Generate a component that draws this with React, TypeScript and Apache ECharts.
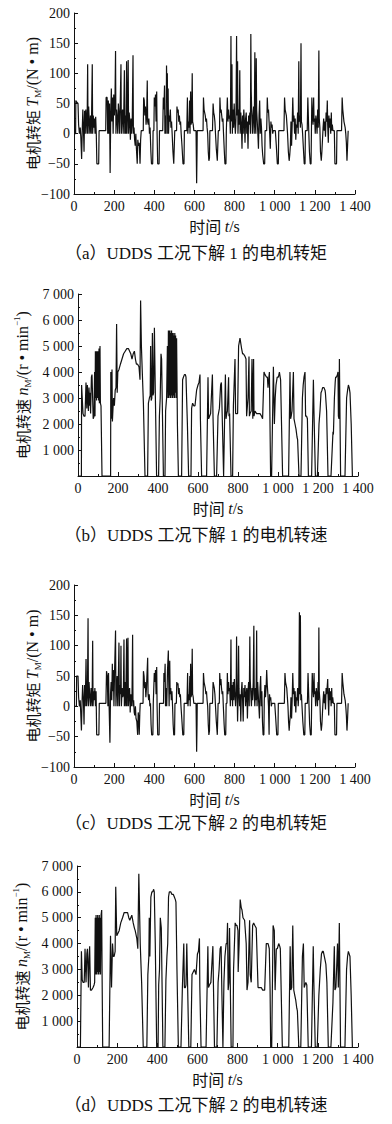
import React, { useEffect, useRef } from 'react';
import * as echarts from 'echarts';

const timeTicks = [0, 200, 400, 600, 800, 1000, 1200, 1400];
const torqueTicks = [-100, -50, 0, 50, 100, 150, 200];
const speedTicks = [0, 1000, 2000, 3000, 4000, 5000, 6000, 7000];

const captions = [
  '（a）UDDS 工况下解 1 的电机转矩',
  '（b）UDDS 工况下解 1 的电机转速',
  '（c）UDDS 工况下解 2 的电机转矩',
  '（d）UDDS 工况下解 2 的电机转速',
];

const torque1: [number, number][] = [
  [0,0],[8,0],[9,55],[14,52],[20,50],[23,15],[27,0],[31,10],[34,-5],[38,-42],[41,5],[44,40],[47,10],[50,-30],[53,38],[56,0],[59,40],[62,20],[65,0],[68,115],[70,0],[73,45],[76,20],[79,0],[82,30],[86,0],[88,40],[91,115],[93,0],[96,30],[99,10],[102,25],[105,0],[108,28],[111,0],[114,-50],[123,-50],[125,5],[158,5],[160,60],[165,60],[168,0],[171,55],[174,0],[177,50],[180,-65],[183,30],[186,75],[189,20],[192,60],[195,0],[198,65],[201,30],[204,50],[207,137],[209,0],[212,40],[215,25],[218,0],[221,50],[224,35],[227,0],[230,45],[234,115],[236,0],[239,30],[242,40],[245,0],[248,35],[251,105],[253,0],[256,30],[259,0],[262,120],[264,0],[267,40],[270,122],[272,0],[275,35],[278,20],[281,-10],[284,25],[287,0],[290,15],[294,130],[296,0],[299,10],[302,-10],[305,-20],[308,0],[311,-25],[315,-50],[318,-10],[321,-20],[325,-15],[329,-50],[332,-10],[335,5],[345,5],[347,60],[350,55],[353,30],[356,45],[359,15],[362,30],[365,88],[367,20],[370,15],[373,25],[376,0],[379,10],[383,-30],[386,-50],[392,-50],[394,5],[398,5],[400,60],[403,45],[406,65],[409,20],[412,70],[414,0],[417,-50],[424,-50],[426,5],[442,5],[445,60],[448,40],[451,80],[453,0],[456,30],[459,0],[461,113],[463,60],[465,100],[467,0],[469,75],[471,0],[474,30],[477,20],[480,40],[483,10],[486,20],[489,0],[493,-30],[497,-50],[500,-50],[502,5],[511,5],[513,45],[516,35],[519,40],[522,20],[525,30],[528,15],[531,20],[534,0],[538,-20],[543,-50],[548,-50],[550,5],[562,5],[565,60],[567,0],[570,20],[573,10],[576,55],[578,0],[581,70],[583,15],[586,20],[589,100],[591,20],[594,15],[597,5],[608,5],[611,-82],[613,-30],[614,5],[643,5],[645,60],[648,40],[651,35],[654,30],[657,20],[660,25],[663,10],[666,0],[669,-30],[672,-45],[675,-40],[677,5],[690,5],[693,50],[696,35],[699,30],[702,20],[705,0],[709,-25],[714,-45],[717,-45],[719,5],[725,5],[727,60],[730,35],[733,40],[736,30],[739,20],[742,25],[745,0],[749,-30],[752,-50],[757,-50],[759,5],[762,5],[764,60],[767,20],[770,40],[773,25],[776,30],[779,0],[782,162],[784,20],[787,115],[789,0],[792,40],[795,10],[798,50],[801,20],[804,0],[807,25],[810,162],[812,30],[815,120],[817,0],[820,40],[823,15],[826,105],[828,0],[831,35],[834,15],[837,-25],[840,30],[843,0],[846,40],[849,20],[852,-15],[855,25],[858,35],[861,0],[864,20],[867,-25],[870,30],[873,15],[876,35],[879,0],[881,165],[883,70],[886,30],[889,0],[892,30],[895,45],[898,0],[901,135],[903,20],[906,0],[908,125],[910,40],[913,20],[916,0],[919,-25],[922,30],[925,55],[928,0],[931,25],[934,10],[937,-20],[940,-35],[945,-50],[950,-50],[952,5],[960,5],[963,60],[966,35],[969,40],[972,20],[975,0],[978,-25],[981,20],[984,10],[987,15],[990,0],[993,5],[1003,5],[1008,-20],[1013,-50],[1018,-50],[1020,5],[1046,5],[1049,60],[1052,40],[1055,35],[1058,30],[1061,15],[1064,0],[1068,-30],[1072,-45],[1075,-35],[1078,-20],[1081,20],[1084,-20],[1087,15],[1090,60],[1093,20],[1096,30],[1099,0],[1102,25],[1105,-10],[1108,15],[1111,10],[1114,35],[1117,0],[1120,120],[1122,20],[1125,30],[1128,10],[1131,150],[1133,20],[1136,15],[1139,0],[1143,-25],[1147,-50],[1151,-50],[1153,5],[1162,5],[1165,60],[1168,60],[1170,0],[1173,-30],[1177,-50],[1181,-50],[1183,5],[1185,60],[1188,30],[1191,15],[1194,60],[1196,20],[1199,25],[1202,0],[1205,30],[1208,20],[1211,0],[1214,40],[1217,10],[1220,138],[1222,25],[1225,10],[1228,-30],[1232,-45],[1235,-30],[1238,-10],[1241,10],[1244,25],[1247,5],[1250,20],[1253,-5],[1256,35],[1259,20],[1262,55],[1264,15],[1267,-15],[1270,30],[1273,10],[1276,25],[1279,0],[1282,35],[1284,5],[1287,15],[1290,5],[1297,5],[1300,-50],[1308,-50],[1310,5],[1333,5],[1336,60],[1339,40],[1342,30],[1345,20],[1348,15],[1351,10],[1354,0],[1357,-15],[1360,-45],[1363,-20],[1366,5],[1368,5]
];

const speed1: [number, number][] = [
  [0,0],[17,0],[18,3500],[25,2400],[30,2300],[35,2300],[40,3600],[44,2600],[47,3500],[52,2500],[55,3400],[58,2700],[60,3200],[63,2400],[67,3800],[70,3900],[73,3900],[76,2200],[80,2300],[83,4000],[85,2300],[87,4800],[89,3000],[91,4800],[93,2900],[95,4800],[97,3000],[99,4800],[101,4800],[103,2900],[105,4900],[107,2800],[110,5000],[112,2800],[115,2700],[120,0],[163,0],[164,4000],[167,2200],[170,4100],[172,2100],[175,2600],[178,3000],[182,2700],[186,3300],[190,3400],[193,5850],[196,3200],[199,4000],[205,4100],[212,4300],[220,4500],[228,4700],[236,4800],[244,4900],[252,4900],[258,4800],[264,4700],[270,4500],[276,4700],[282,4800],[287,4500],[292,4300],[298,4300],[305,4200],[310,3700],[313,6750],[317,5000],[321,4100],[327,2800],[335,0],[348,0],[352,2800],[357,3000],[361,3100],[363,5000],[366,2900],[369,3000],[372,5500],[375,3100],[378,3200],[382,5700],[386,3500],[393,0],[403,0],[407,2300],[411,3000],[415,4700],[418,4500],[427,0],[435,0],[438,2500],[443,3000],[447,5000],[450,3000],[452,5600],[454,3000],[456,5600],[458,3100],[460,5600],[462,3000],[464,5500],[466,3100],[468,5600],[470,3000],[472,5500],[474,3000],[476,5500],[478,3100],[480,5400],[482,3000],[484,5500],[486,3200],[488,5400],[490,3000],[493,5300],[497,2000],[502,0],[518,0],[523,3700],[527,3800],[532,3900],[537,3900],[540,3800],[543,3000],[547,2000],[553,0],[565,0],[568,2600],[573,2800],[579,2700],[585,2700],[593,3300],[600,3500],[605,3600],[610,3900],[612,2200],[618,0],[643,0],[650,3800],[653,2200],[658,2300],[663,2400],[672,3900],[675,2300],[682,0],[693,0],[700,2300],[707,2600],[713,3500],[717,3600],[722,2000],[728,0],[737,3900],[740,2200],[744,2400],[747,2500],[753,3800],[755,2300],[758,2400],[765,0],[773,0],[777,2700],[785,4500],[788,2400],[794,2400],[798,2400],[803,5000],[810,5300],[818,4900],[823,4700],[827,4700],[835,4600],[840,4500],[843,2300],[850,3000],[855,4600],[857,2300],[860,2400],[866,2500],[870,4500],[874,2200],[878,4500],[880,2300],[885,2500],[893,2400],[900,2400],[910,2400],[918,2300],[923,2200],[930,4000],[935,3900],[938,3900],[943,3800],[947,3800],[950,3400],[952,3600],[957,4000],[963,0],[968,0],[977,4200],[982,2000],[986,3000],[990,3500],[996,3800],[1002,3800],[1007,4000],[1013,3700],[1023,0],[1053,0],[1060,4000],[1063,2200],[1066,2300],[1070,2500],[1077,4000],[1080,2200],[1085,2000],[1090,1800],[1095,1500],[1098,1400],[1105,0],[1115,0],[1122,3000],[1126,3500],[1130,3800],[1135,4000],[1138,2300],[1143,2300],[1147,2200],[1152,0],[1168,0],[1177,3700],[1180,2400],[1187,0],[1197,0],[1205,2000],[1210,2500],[1215,3200],[1220,3300],[1223,3400],[1230,3400],[1235,3300],[1237,3200],[1243,2500],[1250,0],[1265,0],[1272,1200],[1275,1700],[1277,1600],[1282,3000],[1286,3600],[1288,3800],[1292,3800],[1297,3900],[1300,4000],[1302,2300],[1305,2200],[1307,4500],[1313,0],[1335,0],[1343,3000],[1348,3300],[1352,3500],[1356,3400],[1360,3200],[1366,2000],[1372,0]
];

const torque2: [number, number][] = [
  [0,0],[12,0],[13,50],[20,50],[23,15],[27,0],[31,10],[37,-40],[40,5],[43,35],[47,10],[50,-30],[53,35],[56,0],[60,78],[63,0],[67,20],[70,145],[72,0],[75,40],[78,20],[82,0],[85,30],[90,0],[93,108],[95,0],[98,25],[101,10],[104,30],[107,0],[110,25],[113,-47],[124,-47],[126,5],[159,5],[162,58],[166,50],[169,0],[172,55],[175,0],[179,-60],[182,20],[185,40],[188,10],[191,70],[193,25],[196,60],[199,0],[202,55],[207,125],[209,0],[212,30],[215,50],[218,0],[221,45],[224,105],[226,0],[229,35],[232,20],[234,100],[236,0],[240,30],[243,15],[246,20],[249,110],[251,0],[255,40],[258,0],[262,112],[264,0],[266,40],[269,113],[271,0],[274,20],[277,30],[280,-10],[283,20],[286,0],[289,15],[292,118],[294,0],[297,10],[300,-10],[303,-15],[306,0],[309,-20],[313,-25],[317,-47],[320,-10],[323,-20],[325,-47],[328,-10],[330,5],[344,5],[346,58],[349,50],[352,30],[355,40],[358,15],[361,30],[367,80],[369,20],[372,10],[375,20],[378,0],[381,5],[384,-30],[387,-47],[393,-47],[395,5],[398,5],[400,55],[403,40],[406,60],[409,20],[412,65],[414,0],[417,-47],[424,-47],[426,5],[446,5],[448,55],[451,40],[454,70],[456,0],[459,30],[462,0],[466,60],[470,92],[472,40],[474,0],[477,75],[479,20],[482,30],[485,10],[488,25],[491,0],[494,-30],[497,-47],[501,-47],[503,5],[510,5],[512,40],[515,35],[518,38],[521,20],[524,30],[527,15],[530,20],[533,0],[537,-20],[542,-47],[547,-47],[549,5],[563,5],[566,55],[568,0],[571,20],[574,10],[577,50],[579,0],[581,70],[583,15],[586,20],[589,95],[591,20],[594,15],[597,5],[608,5],[611,-75],[613,-30],[614,5],[643,5],[645,55],[648,40],[651,35],[654,30],[657,20],[660,25],[663,10],[666,0],[669,-30],[672,-47],[675,-40],[677,5],[690,5],[693,40],[696,35],[699,30],[702,20],[705,0],[709,-25],[714,-47],[716,-47],[718,5],[724,5],[726,55],[729,35],[732,45],[735,30],[738,20],[741,25],[744,0],[748,-30],[751,-47],[756,-47],[758,5],[762,5],[764,55],[767,20],[770,40],[773,25],[776,30],[779,0],[782,110],[784,10],[787,35],[790,0],[793,40],[796,10],[799,45],[802,20],[805,0],[808,25],[810,115],[812,40],[815,-25],[818,20],[820,100],[822,30],[825,0],[828,20],[831,-25],[834,25],[837,40],[840,10],[843,-25],[846,30],[849,15],[852,35],[855,0],[858,20],[861,30],[864,-20],[867,25],[870,40],[873,0],[876,115],[878,45],[881,20],[884,0],[887,30],[890,10],[893,40],[896,133],[898,20],[901,0],[904,30],[907,10],[910,125],[912,0],[915,40],[918,20],[921,0],[924,-20],[927,30],[930,50],[933,0],[936,25],[939,-25],[942,-47],[946,-47],[948,10],[951,35],[954,15],[957,30],[960,60],[963,35],[966,20],[969,0],[972,-47],[974,20],[977,10],[980,15],[983,0],[986,5],[1000,5],[1005,-20],[1010,-47],[1016,-47],[1018,5],[1048,5],[1051,55],[1054,40],[1057,35],[1060,30],[1063,15],[1066,0],[1069,-25],[1072,-40],[1075,-25],[1078,-15],[1081,15],[1084,-20],[1087,10],[1090,55],[1093,20],[1096,30],[1099,0],[1102,25],[1105,-10],[1108,15],[1111,10],[1114,30],[1117,0],[1120,20],[1123,155],[1125,20],[1128,150],[1130,10],[1133,20],[1136,0],[1140,-25],[1145,-47],[1150,-47],[1152,5],[1163,5],[1166,55],[1169,55],[1171,0],[1174,-30],[1178,-47],[1182,-47],[1184,5],[1187,55],[1190,30],[1193,15],[1196,55],[1198,20],[1201,25],[1204,0],[1207,30],[1210,20],[1213,0],[1216,40],[1218,10],[1220,130],[1222,25],[1225,10],[1228,-25],[1232,-40],[1235,-30],[1238,-10],[1241,10],[1244,25],[1247,5],[1250,20],[1253,-5],[1256,30],[1259,20],[1264,45],[1266,15],[1269,-15],[1272,30],[1275,10],[1278,25],[1281,0],[1284,30],[1286,5],[1289,15],[1292,5],[1297,5],[1300,-47],[1308,-47],[1310,5],[1333,5],[1336,55],[1339,40],[1342,30],[1345,20],[1348,15],[1351,10],[1354,0],[1357,-15],[1360,-40],[1363,-20],[1366,5],[1368,5]
];

const speed2: [number, number][] = [
  [0,0],[17,0],[22,3700],[26,2600],[30,2500],[36,2500],[40,3800],[45,2500],[49,3600],[52,3800],[57,2300],[60,3400],[63,3900],[67,2200],[72,2200],[80,2300],[85,2400],[88,2500],[91,5000],[93,2800],[95,5100],[97,2800],[99,5000],[101,2900],[103,5100],[105,2800],[107,5000],[109,2800],[111,5100],[113,2900],[115,5000],[117,2800],[120,5100],[123,5300],[125,2800],[128,0],[160,0],[167,4300],[172,2300],[177,4000],[181,3500],[185,3500],[190,3700],[193,6200],[198,4300],[204,4400],[210,4500],[218,4800],[227,5000],[235,5200],[243,5200],[252,5200],[258,5000],[263,4900],[268,5000],[273,5100],[280,4800],[286,4600],[290,4500],[298,4200],[303,3800],[308,6700],[315,4000],[322,2500],[330,0],[348,0],[353,2800],[358,3500],[360,5000],[363,3500],[368,5800],[373,6000],[377,6000],[382,6100],[385,6000],[390,4000],[397,0],[404,0],[407,2400],[411,3000],[415,5000],[420,4600],[428,0],[438,0],[443,2600],[448,3500],[452,4000],[456,5800],[460,6000],[467,6000],[473,5900],[480,5900],[485,5800],[490,5700],[493,5600],[498,3000],[505,0],[518,0],[525,2300],[532,4000],[535,2300],[540,2300],[543,2400],[547,4000],[552,2000],[557,0],[567,0],[573,2800],[579,2900],[585,3000],[593,2800],[600,3600],[605,3700],[610,4200],[612,2300],[618,0],[643,0],[652,3900],[655,2300],[660,2400],[667,2500],[677,3900],[680,2300],[685,0],[697,0],[703,2500],[708,3000],[713,3800],[718,3900],[722,2000],[727,0],[732,2500],[737,3500],[743,4000],[747,4000],[750,4800],[753,2200],[757,2500],[760,4600],[768,0],[777,0],[780,3000],[788,4800],[793,4700],[797,4700],[802,4500],[803,2900],[808,4000],[813,5700],[818,5400],[822,5300],[827,5000],[835,4900],[843,4000],[847,2200],[852,2500],[860,4900],[863,2800],[868,2500],[875,4700],[880,4800],[886,4700],[893,4600],[902,2300],[910,2300],[918,2300],[925,2200],[935,2200],[943,4000],[948,4000],[952,4000],[958,3800],[962,2200],[965,0],[970,0],[977,4700],[983,4500],[987,2200],[990,3000],[993,3800],[998,3800],[1005,4000],[1010,3900],[1013,3800],[1023,0],[1055,0],[1062,3900],[1065,2200],[1070,2300],[1075,4700],[1080,2200],[1085,2000],[1090,1800],[1095,1500],[1098,1400],[1105,0],[1115,0],[1123,3500],[1128,4000],[1132,2300],[1136,2400],[1140,2500],[1145,2400],[1152,0],[1168,0],[1177,3900],[1180,2500],[1187,0],[1197,0],[1205,2000],[1212,3000],[1218,3600],[1223,3700],[1227,3700],[1235,3400],[1240,3200],[1245,2500],[1252,0],[1265,0],[1272,1200],[1275,1700],[1277,1700],[1282,3900],[1285,2200],[1290,2300],[1293,2300],[1298,4000],[1302,2300],[1307,4800],[1313,0],[1335,0],[1343,3000],[1348,3500],[1352,3700],[1356,3600],[1360,3500],[1366,2000],[1372,0]
];

const SERIF = '"Liberation Serif", "Times New Roman", "Noto Sans CJK SC", serif';
const CJK = '"Noto Sans CJK SC", "Liberation Serif", sans-serif';

function fmtNum(v: number): string {
  const neg = v < 0;
  const a = Math.abs(v);
  let s = String(a);
  if (a >= 1000) s = String(Math.floor(a / 1000)) + ' ' + String(a % 1000).padStart(3, '0');
  return (neg ? '\u2212' : '') + s;
}

const grids = [
  { left: 74, top: 13, width: 281, height: 181 },
  { left: 78, top: 294, width: 280, height: 182 },
  { left: 74, top: 585, width: 281, height: 182 },
  { left: 77, top: 866, width: 281, height: 181 },
];
const captionY = [255, 537, 825, 1107];

const richBase = {
  h: { fontFamily: CJK, fontSize: 15, lineHeight: 20, color: '#111' },
  x: { fontFamily: CJK, fontSize: 16, lineHeight: 20, color: '#111' },
  c: { fontFamily: SERIF, fontSize: 16, lineHeight: 20, color: '#111' },
  i: { fontFamily: SERIF, fontSize: 16, lineHeight: 20, fontStyle: 'italic', color: '#111' },
  s: { fontFamily: SERIF, fontSize: 9, lineHeight: 9, verticalAlign: 'bottom', color: '#111' },
  p: { fontFamily: SERIF, fontSize: 9, lineHeight: 9, verticalAlign: 'top', color: '#111' },
};

export default function App() {
  const ref = useRef<HTMLDivElement>(null);
  useEffect(() => {
    if (!ref.current) return;
    const chart = echarts.init(ref.current, null, { renderer: 'svg' });
    const datasets = [torque1, speed1, torque2, speed2];
    const isTorque = [true, false, true, false];
    const axisLine = { show: true, onZero: false, lineStyle: { color: '#111', width: 1 } };
    const axisTick = { show: true, inside: true, length: 4, lineStyle: { color: '#111', width: 1 } };
    const minorTick = { show: true, splitNumber: 2, length: 2, lineStyle: { color: '#111', width: 1 } };
    const labelStyle = { fontFamily: SERIF, fontSize: 14, color: '#111' };

    const option: any = {
      animation: false,
      grid: grids.map((g) => ({ ...g, containLabel: false })),
      xAxis: grids.map((_, i) => ({
        type: 'value',
        gridIndex: i,
        min: timeTicks[0],
        max: timeTicks[timeTicks.length - 1],
        interval: 200,
        axisLine,
        axisTick,
        minorTick,
        splitLine: { show: false },
        axisLabel: { ...labelStyle, margin: 5, formatter: (v: number) => fmtNum(v) },
        name: '{x|时间 }{i|t}{c|/s}',
        nameLocation: 'middle',
        nameGap: 22,
        nameTextStyle: { rich: richBase },
      })),
      yAxis: grids.map((_, i) => {
        const ticks = isTorque[i] ? torqueTicks : speedTicks;
        return {
          type: 'value',
          gridIndex: i,
          min: ticks[0],
          max: ticks[ticks.length - 1],
          interval: isTorque[i] ? 50 : 1000,
          axisLine,
          axisTick,
          minorTick,
          splitLine: { show: false },
          axisLabel: {
            ...labelStyle,
            margin: 4,
            formatter: (v: number) => (!isTorque[i] && v === 0 ? '' : fmtNum(v)),
          },
          name: isTorque[i]
            ? '{h|电机转矩 }{i|T}{s|M}{c|/(N • m)}'
            : '{h|电机转速 }{i|n}{s|M}{c|/(r • min}{p|\u22121}{c|)}',
          nameLocation: 'middle',
          nameRotate: 90,
          nameMoveOverlap: false,
          nameGap: isTorque[i] ? 32 : 46,
          nameTextStyle: { rich: richBase },
        };
      }),
      series: datasets.map((d, i) => ({
        type: 'line',
        xAxisIndex: i,
        yAxisIndex: i,
        data: d,
        showSymbol: false,
        symbol: 'none',
        silent: true,
        lineStyle: { color: '#111', width: 1.2 },
      })),
      graphic: captions.map((c, i) => ({
        type: 'text',
        left: 'center',
        top: captionY[i] - 10,
        style: { text: c, font: `17px ${SERIF}`, fill: '#111' },
      })),
    };
    chart.setOption(option);
    return () => chart.dispose();
  }, []);
  return (
    <div
      ref={ref}
      style={{ position: 'absolute', left: 0, top: 0, width: 392, height: 1124, background: '#fff' }}
    />
  );
}
